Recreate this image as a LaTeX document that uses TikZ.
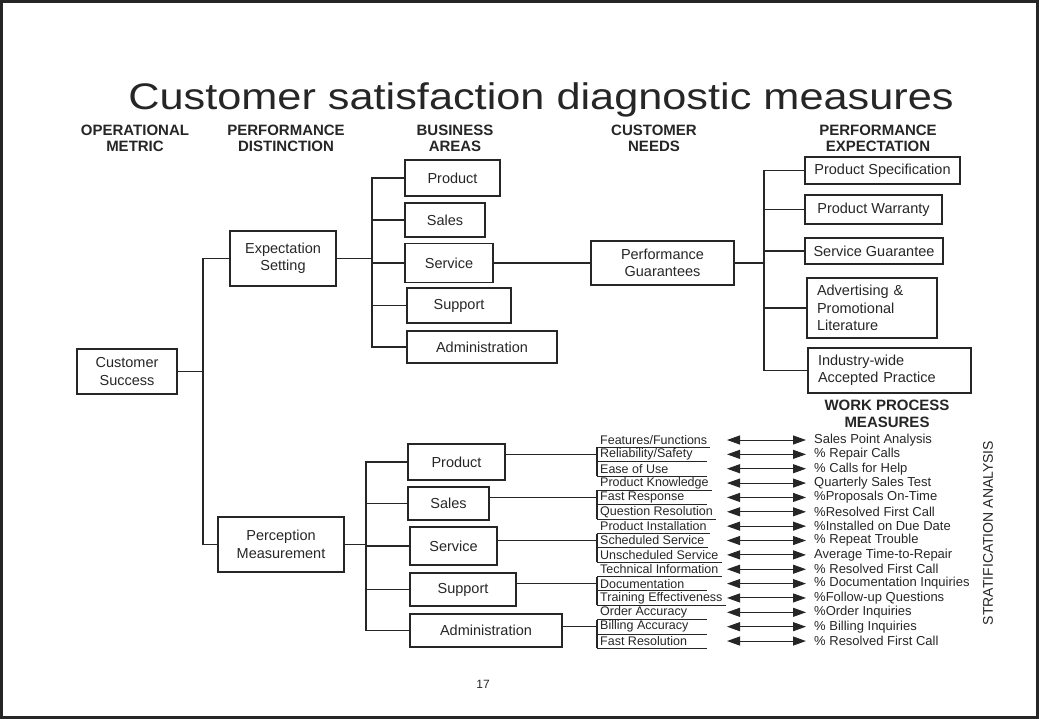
\documentclass[tikz,border=0pt]{standalone}
\usepackage{fontspec}
\setmainfont{Liberation Sans}
\usetikzlibrary{arrows.meta}
\definecolor{ink}{HTML}{262626}
\newcommand\fsz[2]{\fontsize{#1}{#2}\selectfont}
\begin{document}
\begin{tikzpicture}[x=1pt,y=-1pt,
  box/.style={draw=ink, line width=1.2pt, text=ink, font=\fsz{14.5}{17.5}, align=center, inner sep=0pt},
  wire/.style={draw=ink, line width=1.1pt},
  head/.style={font=\bfseries\fsz{15}{16.5}, align=center, text=ink},
  item/.style={anchor=west, font=\fsz{12.5}{14}, text=ink, inner xsep=3pt, inner ysep=0pt, minimum height=14.36pt},
  meas/.style={anchor=west, font=\fsz{13}{14}, text=ink, inner xsep=8pt, inner ysep=0pt},
  dbl/.style={draw=ink, line width=1pt, {Triangle[length=13pt,width=9pt]}-{Triangle[length=13pt,width=9pt]}}]

\useasboundingbox (0,0) rectangle (1039,719);
\draw[line width=3pt, draw=black!85] (1.5,1.5) rectangle (1037.5,717.5);

% title and column headings
\node[font=\fsz{37}{42}, text=ink, anchor=base] (title) at (541,110)
  {\scalebox{1.17}[1]{Customer satisfaction diagnostic measures}};
\node[head] (h1) at (135,138.5) {OPERATIONAL\\METRIC};
\node[head] (h2) at (286,138.5) {PERFORMANCE\\DISTINCTION};
\node[head] (h3) at (455,138.5) {BUSINESS\\AREAS};
\node[head] (h4) at (654,138.5) {CUSTOMER\\NEEDS};
\node[head] (h5) at (878,138.5) {PERFORMANCE\\EXPECTATION};

% trunk columns
\coordinate (j1) at (203,0);
\coordinate (j2) at (372,0);
\coordinate (j3) at (764,0);
\coordinate (j4) at (366,0);

% left part
\node[box, minimum width=100pt, minimum height=45pt] (cs) at (127,371.5) {Customer\\Success};
\node[box, minimum width=106pt, minimum height=55pt] (es) at (283,258.5) {Expectation\\Setting};
\node[box, minimum width=126pt, minimum height=55pt] (pm) at (281,544.5) {Perception\\Measurement};

% business areas (expectation)
\node[box, minimum width=95pt,  minimum height=36pt] (tprod) at (452.5,178) {Product};
\node[box, minimum width=80pt,  minimum height=34pt] (tsales) at (445,220) {Sales};
\node[box, minimum width=88pt,  minimum height=39pt] (tserv) at (449,263) {Service};
\node[box, minimum width=104pt, minimum height=35pt] (tsupp) at (459,305.5) {Support};
\node[box, minimum width=150pt, minimum height=32pt] (tadm) at (482,347) {Administration};

\node[box, minimum width=143pt, minimum height=44pt] (pg) at (662.5,263) {Performance\\Guarantees};

% performance expectation
\node[box, minimum width=155pt, minimum height=27pt] (ps) at (882.5,170.5) {Product Specification};
\node[box, minimum width=137pt, minimum height=29pt] (pw) at (873.5,209.5) {Product Warranty};
\node[box, minimum width=138pt, minimum height=26pt] (sg) at (874,251) {Service Guarantee};
\node[box, align=left, text width=110pt, inner xsep=10pt, minimum height=60pt] (adv) at (872,308)
  {Advertising \&\\Promotional\\Literature};
\node[box, align=left, text width=143pt, inner xsep=10pt, minimum height=45pt] (iw) at (889.5,370.5)
  {Industry-wide\\Accepted Practice};

% business areas (perception)
\node[box, minimum width=97pt,  minimum height=36pt] (bprod) at (456.5,462) {Product};
\node[box, minimum width=81pt,  minimum height=33pt] (bsales) at (448.5,503.5) {Sales};
\node[box, minimum width=87pt,  minimum height=38pt] (bserv) at (453.5,546) {Service};
\node[box, minimum width=106pt, minimum height=33pt] (bsupp) at (463,589.5) {Support};
\node[box, minimum width=152pt, minimum height=33pt] (badm) at (486,630.5) {Administration};

% connectors
\draw[wire] (cs.east) -- (cs.east -| j1);
\draw[wire] (es.west) -| (j1 |- pm.west) -- (pm.west);
\draw[wire] (es.east) -- (es.east -| j2);
\draw[wire] (tprod.west) -| (j2 |- tadm.west) -- (tadm.west);
\foreach \n in {tsales,tserv,tsupp} \draw[wire] (\n.west) -- (\n.west -| j2);
\draw[wire] (tserv.east) -- (pg.west);
\draw[wire] (pg.east) -- (pg.east -| j3);
\draw[wire] (ps.west) -| (j3 |- iw.west) -- (iw.west);
\foreach \n in {pw,sg,adv} \draw[wire] (\n.west) -- (\n.west -| j3);
\draw[wire] (pm.east) -- (pm.east -| j4);
\draw[wire] (bprod.west) -| (j4 |- badm.west) -- (badm.west);
\foreach \n in {bsales,bserv,bsupp} \draw[wire] (\n.west) -- (\n.west -| j4);

% customer needs and work process measures
\node[head] (wpm) at (887,414) {WORK PROCESS\\MEASURES};
\foreach \i/\t/\m in {
  0/{Features/Functions}/{Sales Point Analysis},
  1/{Reliability/Safety}/{\% Repair Calls},
  2/{Ease of Use}/{\% Calls for Help},
  3/{Product Knowledge}/{Quarterly Sales Test},
  4/{Fast Response}/{\%Proposals On-Time},
  5/{Question Resolution}/{\%Resolved First Call},
  6/{Product Installation}/{\%Installed on Due Date},
  7/{Scheduled Service}/{\% Repeat Trouble},
  8/{Unscheduled Service}/{Average Time-to-Repair},
  9/{Technical Information}/{\% Resolved First Call},
  10/{Documentation}/{\% Documentation Inquiries},
  11/{Training Effectiveness}/{\%Follow-up Questions},
  12/{Order Accuracy}/{\%Order Inquiries},
  13/{Billing Accuracy}/{\% Billing Inquiries},
  14/{Fast Resolution}/{\% Resolved First Call}}{
  \pgfmathsetmacro\yy{440+14.36*\i}
  \node[item] (it\i) at (597,\yy) {\t};
  % underline: at least 110pt long, longer under long labels
  \draw[draw=ink, line width=1pt] (it\i.south west) -- (it\i.south east);
  \draw[draw=ink, line width=1pt] (it\i.south west) -- ++(110,0);
  \node[meas] (ms\i) at (806,\yy) {\m};
  \coordinate (al\i) at (727,\yy);
  \draw[dbl] (al\i) -- (ms\i.west);
}
\foreach \f/\b in {0/bprod,3/bsales,6/bserv,9/bsupp,12/badm}{
  \pgfmathtruncatemacro\g{\f+2}
  \pgfmathtruncatemacro\h{\f+1}
  \draw[wire] (it\f.south west) -- (it\g.south west);
  \draw[wire] (it\h.west -| \b.east) -- (it\h.west);
}

\node[rotate=90, font=\fsz{14}{16}, text=ink] (strat) at (988,533) {STRATIFICATION ANALYSIS};
\node[font=\fsz{12}{14}, text=ink] (pnum) at (483,684) {17};
\end{tikzpicture}
\end{document}
